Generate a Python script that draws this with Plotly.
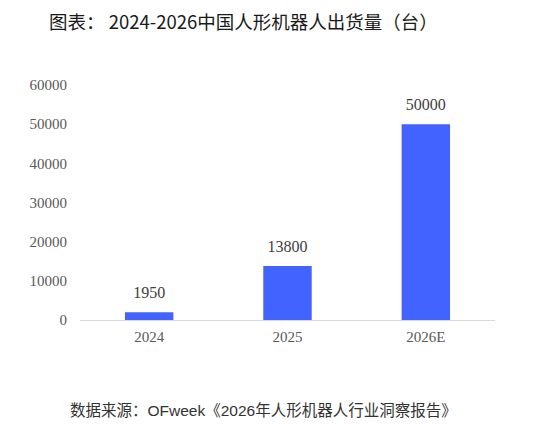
import plotly.graph_objects as go

categories = ["2024", "2025", "2026E"]
values = [1950, 13800, 50000]
tick_vals = [0, 10000, 20000, 30000, 40000, 50000, 60000]
tick_text = ["0", "10000", "20000", "30000", "40000", "50000", "60000"]

title_text = "图表： 2024-2026中国人形机器人出货量（台）"
source_text = "数据来源：OFweek《2026年人形机器人行业洞察报告》"

L, T, PW, PH = 72, 77, 415, 235
SERIF = "Liberation Serif"

fig = go.Figure()
fig.add_trace(go.Bar(
    x=categories, y=values,
    marker=dict(color="#4263FF", line=dict(width=0)),
    width=0.35,
    text=[str(v) for v in values],
    texttemplate="<span style='font-size:16px'>%{text}</span><br>&nbsp;",
    textposition="outside",
    textfont=dict(family=SERIF, size=7, color="#404040"),
    cliponaxis=False,
))

annotations = [
    dict(text=title_text, xref="paper", yref="paper", x=(243 - 80) / PW, y=1,
         yshift=85 - 21, xanchor="center", yanchor="middle", showarrow=False,
         font=dict(family="Noto Sans CJK SC", size=18.5, color="#1A1A1A")),
    dict(text=source_text, xref="paper", yref="paper", x=(263 - 80) / PW, y=0,
         yshift=-(410 - 320), xanchor="center", yanchor="middle", showarrow=False,
         font=dict(family="Liberation Sans, Noto Sans CJK SC", size=15.5, color="#333333")),
]

fig.update_layout(
    width=556, height=434,
    margin=dict(l=L, r=556 - L - PW, t=T, b=434 - T - PH),
    paper_bgcolor="white", plot_bgcolor="white",
    showlegend=False,
    uniformtext=dict(mode=False),
    xaxis=dict(
        type="category", range=[-0.5, 2.5],
        showgrid=False, showline=True, linecolor="#D9D9D9", linewidth=1,
        ticks="", tickfont=dict(family=SERIF, size=15, color="#595959"),
        ticklabelstandoff=3,
    ),
    yaxis=dict(
        range=[0, 60000], tickvals=tick_vals, ticktext=tick_text,
        showgrid=False, zeroline=False, showline=False, ticks="",
        tickfont=dict(family=SERIF, size=15, color="#595959"),
        ticklabelstandoff=12,
    ),
    annotations=annotations,
)

fig.write_html("out.html")
